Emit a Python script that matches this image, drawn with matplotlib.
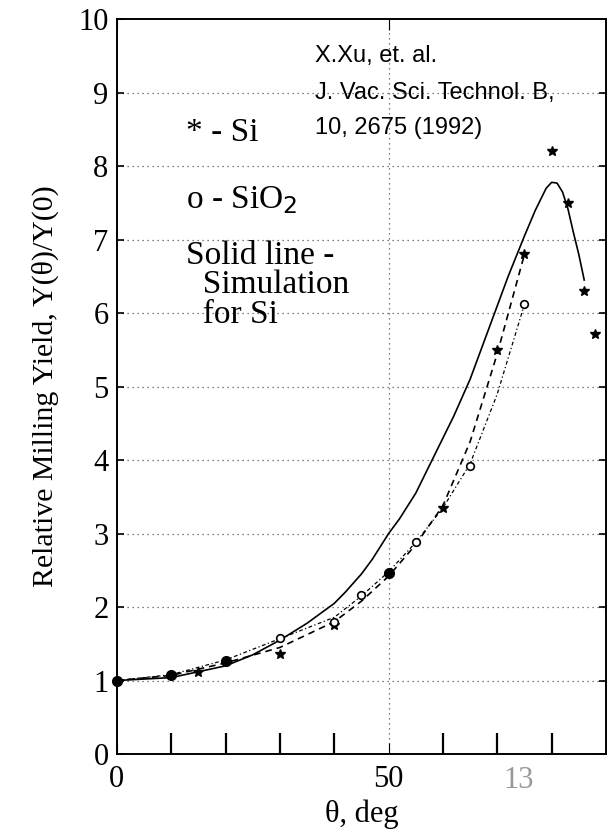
import matplotlib
matplotlib.use("Agg")
import matplotlib.pyplot as plt

# Si measurements (asterisks)
si_x = [15, 30, 40, 60, 70, 75, 80, 83, 86, 88]
si_y = [1.12, 1.36, 1.75, 3.35, 5.5, 6.8, 8.2, 7.5, 6.3, 5.72]

# SiO2 measurements (open circles)
sio2_x = [30, 40, 45, 55, 65, 75]
sio2_y = [1.58, 1.8, 2.17, 2.88, 3.92, 6.12]

# shared points (both materials, drawn as filled dots)
both_x = [0, 10, 20, 50]
both_y = [1.0, 1.08, 1.26, 2.46]

# dashed fit through Si data
si_fit_x = [0, 10, 20, 30, 40, 45, 50, 55, 60, 65, 70, 75]
si_fit_y = [1.0, 1.07, 1.24, 1.45, 1.8, 2.08, 2.42, 2.85, 3.38, 4.25, 5.45, 6.8]

# dash-dot fit through SiO2 data
sio2_fit_x = [0, 10, 20, 30, 40, 45, 50, 55, 60, 65, 70, 75]
sio2_fit_y = [1.0, 1.08, 1.28, 1.57, 1.86, 2.15, 2.48, 2.88, 3.35, 3.95, 4.9, 6.12]

# simulation for Si (solid)
sim_x = [0, 10, 20, 25, 30, 35, 40, 42, 45, 47, 50, 52, 55, 57, 60, 62, 65, 67, 70, 72, 75,
         77, 79, 80, 81, 82, 83, 84, 85, 86]
sim_y = [1.0, 1.04, 1.2, 1.35, 1.55, 1.78, 2.05, 2.2, 2.45, 2.65, 3.0, 3.2, 3.55, 3.85, 4.3, 4.6,
         5.1, 5.5, 6.1, 6.5, 7.05, 7.4, 7.7, 7.78, 7.77, 7.65, 7.42, 7.1, 6.8, 6.45]

plt.rcParams['font.family'] = ['Liberation Serif', 'DejaVu Serif']

fig = plt.figure(figsize=(6.09, 8.35), dpi=100)
ax = fig.add_axes([0.192, 0.097, 0.803, 0.88])

# grid: dotted horizontal lines, one vertical at 50
for yv in range(1, 10):
    ax.axhline(yv, color='#555555', lw=0.9, ls=(0, (1, 3)), zorder=0)
ax.axvline(50, color='#555555', lw=0.9, ls=(0, (1, 3)), zorder=0)

ax.plot(sim_x, sim_y, color='black', lw=1.2)
ax.plot(si_fit_x, si_fit_y, color='black', lw=1.2, ls=(0, (4, 3)))
ax.plot(sio2_fit_x, sio2_fit_y, color='black', lw=0.9, ls=(0, (3, 2, 1, 2)))

ax.plot(si_x, si_y, ls='none', marker='*', ms=7, color='black', mec='black')
ax.plot(sio2_x, sio2_y, ls='none', marker='o', ms=5.5, mfc='white', mec='black', mew=1.2)
ax.plot(both_x, both_y, ls='none', marker='o', ms=7, color='black', clip_on=False)

ax.set_xlim(0, 90)
ax.set_ylim(0, 10)
ax.set_xticks([0, 50])
ax.set_yticks(range(0, 11))
ax.tick_params(axis='x', labelsize=22, direction='in', length=0, pad=8)
ax.tick_params(axis='y', labelsize=22, direction='in', length=5, right=True, width=1.2, pad=6)

# inward minor ticks along the bottom every 10 deg
ax.set_xticks(range(10, 90, 10), minor=True)
ax.tick_params(axis='x', which='minor', direction='in', length=15, width=1.6, bottom=True, top=False)
ax.tick_params(axis='x', which='major', top=True, length=8, direction='in')

for sp in ax.spines.values():
    sp.set_linewidth(1.4)

ax.set_xlabel('θ, deg', fontsize=22, labelpad=4)
ax.set_ylabel('Relative Milling Yield, Y(θ)/Y(0)', fontsize=21.5, labelpad=14)

ax.text(36.5, 9.5, 'X.Xu, et. al.', family=['Liberation Sans', 'DejaVu Sans'], fontsize=17, va='center')
ax.text(36.5, 9.0, 'J. Vac. Sci. Technol. B,', family=['Liberation Sans', 'DejaVu Sans'],
        fontsize=17, va='center')
ax.text(36.5, 8.52, '10, 2675 (1992)', family=['Liberation Sans', 'DejaVu Sans'],
        fontsize=17, va='center')

ax.text(12.7, 8.45, '* - Si', fontsize=24, va='center')
ax.text(12.7, 7.54, 'o - SiO$_2$', fontsize=24, va='center')
ax.text(12.7, 6.38, 'Solid line -\n  Simulation\n  for Si', fontsize=24, va='center', linespacing=0.95)

ax.text(74, -0.36, '13', fontsize=22, color='#999999', ha='center', va='center')

fig.savefig('out.png', dpi=100)
